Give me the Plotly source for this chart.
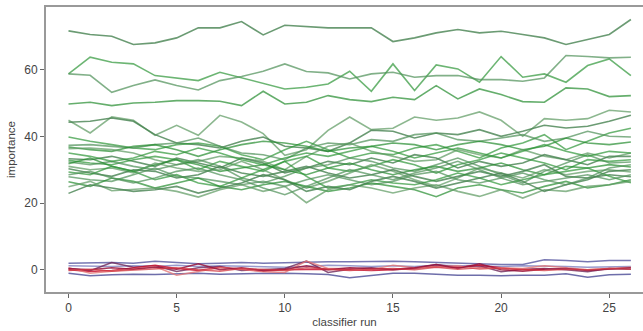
import plotly.graph_objects as go

runs = list(range(27))

# upper green series
g_top = [71.6, 70.5, 70.0, 67.5, 68.0, 69.5, 72.5, 72.5, 74.4, 70.4, 73.3, 72.8, 72.5, 72.5, 72.5, 68.4,
         69.5, 71.0, 72.0, 71.0, 71.5, 70.5, 69.5, 67.5, 69.0, 70.5, 75.0]
g_a = [58.7, 63.7, 62.2, 61.7, 58.2, 57.5, 56.7, 59.2, 57.5, 55.7, 54.2, 54.7, 55.7, 59.5, 53.5, 61.7,
       53.7, 61.4, 60.2, 56.2, 63.9, 57.7, 58.7, 56.2, 61.2, 63.2, 58.2]
g_b = [58.7, 58.3, 53.2, 55.2, 56.9, 55.2, 53.9, 56.7, 57.9, 59.5, 61.7, 59.4, 59.0, 57.2, 58.7, 59.2,
       57.7, 58.2, 58.2, 57.0, 57.0, 56.5, 57.5, 64.2, 63.9, 63.5, 63.7]
g_c = [49.7, 50.2, 49.2, 50.0, 50.2, 50.7, 50.7, 50.5, 49.2, 53.5, 49.7, 50.2, 52.2, 51.0, 50.4, 51.7,
       51.0, 55.2, 51.2, 54.2, 52.5, 50.4, 50.2, 54.5, 54.2, 51.9, 52.2]

# middle green band
m1 = [44.8, 41.0, 45.8, 44.8, 40.3, 43.3, 40.3, 46.3, 44.3, 40.8, 34.3, 36.0, 41.8, 45.8, 42.0, 42.4,
      45.8, 44.8, 45.5, 47.3, 44.8, 40.0, 45.3, 44.8, 45.3, 47.8, 47.3]
m2 = [44.2, 44.5, 45.5, 44.5, 40.5, 38.0, 37.5, 36.5, 38.5, 39.8, 37.0, 36.5, 35.5, 38.0, 41.8, 41.5,
      39.5, 41.0, 40.5, 42.0, 40.0, 41.5, 43.3, 42.5, 43.0, 44.5, 46.3]
m3 = [39.8, 38.5, 37.5, 36.5, 36.0, 37.5, 38.0, 37.0, 34.5, 33.0, 36.0, 38.5, 36.0, 33.5, 35.0, 34.5,
      36.5, 37.5, 35.5, 33.5, 36.5, 38.0, 40.5, 36.0, 38.5, 41.0, 42.4]
m4 = [37.3, 37.5, 37.0, 36.5, 37.5, 38.0, 39.5, 37.0, 35.0, 34.5, 33.0, 36.5, 38.0, 37.5, 39.0, 38.5,
      40.5, 41.0, 39.0, 38.5, 39.5, 40.5, 38.5, 39.5, 41.5, 40.0, 39.8]
m5 = [36.8, 36.0, 35.5, 37.0, 37.5, 36.0, 34.0, 36.0, 37.5, 38.5, 38.0, 37.0, 35.5, 36.5, 37.0, 38.0,
      37.5, 36.0, 37.5, 38.5, 37.5, 36.0, 37.0, 39.5, 38.0, 37.5, 38.3]
m6 = [36.3, 36.5, 36.0, 35.0, 33.0, 31.5, 32.5, 34.0, 33.5, 32.5, 30.0, 34.0, 37.0, 38.0, 35.5, 34.0,
      32.5, 33.0, 36.0, 34.5, 33.5, 36.0, 34.0, 33.0, 35.0, 33.5, 35.0]
m7 = [33.3, 33.0, 34.0, 32.5, 31.0, 33.5, 32.0, 30.5, 33.5, 32.0, 29.0, 30.5, 32.5, 31.5, 33.5, 32.0,
      34.5, 33.5, 30.5, 32.5, 31.0, 32.0, 34.5, 33.0, 31.5, 34.0, 34.0]
m8 = [32.8, 32.0, 31.5, 33.0, 34.0, 33.0, 30.0, 32.5, 31.0, 29.5, 32.5, 34.0, 30.5, 29.5, 31.0, 33.0,
      31.5, 29.0, 31.5, 33.0, 35.0, 33.5, 32.0, 30.0, 33.0, 32.5, 33.0]
m9 = [32.3, 31.5, 32.5, 31.0, 30.0, 31.5, 33.0, 31.0, 27.5, 26.0, 28.0, 30.5, 31.5, 33.5, 32.5, 30.5,
      29.5, 31.5, 33.5, 31.0, 28.5, 26.0, 29.5, 32.0, 34.5, 32.0, 32.3]
m10 = [31.8, 33.5, 31.0, 29.5, 31.5, 33.0, 31.5, 29.5, 30.5, 31.5, 30.0, 28.5, 30.5, 32.0, 30.0, 28.5,
       30.0, 31.0, 29.5, 30.5, 32.0, 30.0, 28.5, 31.0, 30.5, 31.5, 30.8]
m11 = [31.0, 30.0, 30.5, 29.0, 32.0, 30.5, 29.5, 30.0, 32.5, 30.0, 27.0, 24.5, 26.5, 29.0, 31.5, 29.5,
       27.0, 25.0, 27.5, 30.5, 29.0, 27.5, 30.0, 28.5, 29.5, 30.0, 29.3]
m12 = [30.3, 29.0, 28.0, 30.0, 29.5, 27.5, 28.5, 31.0, 29.0, 28.0, 29.5, 31.0, 29.0, 27.5, 28.5, 30.0,
       28.0, 26.5, 28.0, 29.5, 28.0, 29.5, 31.5, 28.0, 27.5, 28.5, 27.9]
m13 = [29.3, 28.5, 31.0, 29.5, 27.0, 28.5, 26.0, 25.0, 27.5, 30.0, 32.5, 28.0, 24.5, 25.5, 27.0, 26.0,
       25.5, 27.0, 29.0, 27.5, 25.5, 27.0, 28.5, 29.5, 30.5, 28.0, 26.1]
m14 = [27.9, 27.0, 26.5, 28.5, 30.5, 28.0, 27.5, 26.5, 25.5, 26.5, 25.0, 27.0, 28.5, 27.0, 25.5, 26.5,
       28.5, 29.5, 27.0, 26.0, 27.5, 25.5, 26.5, 27.5, 28.5, 27.0, 28.5]
m15 = [26.4, 25.0, 27.5, 26.5, 24.5, 26.0, 27.5, 25.0, 24.0, 25.5, 26.5, 25.0, 23.5, 24.5, 26.0, 25.0,
       24.0, 21.9, 24.5, 25.5, 24.0, 23.0, 25.0, 26.5, 24.5, 25.5, 27.0]
m16 = [24.9, 26.5, 23.7, 24.0, 24.5, 23.5, 21.8, 24.0, 25.5, 23.5, 25.0, 20.1, 24.0, 25.5, 24.5, 23.0,
       24.5, 25.5, 23.5, 22.0, 24.0, 21.5, 24.0, 23.5, 25.0, 25.5, 26.5]
m17 = [22.9, 25.5, 24.5, 23.5, 24.0, 25.0, 23.0, 24.5, 26.0, 28.5, 27.0, 23.5, 25.0, 24.0, 26.5, 28.0,
       26.5, 24.5, 26.0, 27.5, 29.0, 26.5, 23.5, 25.5, 27.0, 29.5, 30.0]
m18 = [35.0, 34.0, 32.5, 33.5, 35.5, 34.5, 36.5, 35.0, 33.0, 31.5, 33.5, 35.0, 34.0, 35.5, 37.0, 35.5,
       33.5, 35.0, 36.5, 35.0, 33.5, 35.5, 37.5, 35.5, 34.0, 35.5, 35.0]
m19 = [28.5, 29.5, 27.5, 26.0, 27.5, 29.5, 30.5, 28.5, 27.0, 24.5, 22.5, 25.0, 27.5, 30.0, 28.5, 27.0,
       29.0, 30.5, 32.5, 30.0, 27.5, 29.0, 27.0, 25.5, 27.5, 30.5, 31.5]

# near-zero series (blue / purple)
b1 = [2.0, 2.2, 2.2, 2.0, 2.6, 2.2, 1.8, 2.0, 2.2, 2.0, 2.2, 2.4, 2.4, 2.4, 2.6, 2.6, 2.4, 2.2, 1.8,
      1.8, 1.6, 1.6, 3.0, 2.8, 2.4, 2.8, 2.8]
b2 = [-1.0, -1.8, -1.5, -1.3, -1.4, -1.2, -1.0, -1.3, -1.2, -1.1, -1.0, -1.2, -1.4, -2.4, -1.8, -1.0,
      -1.0, -1.4, -1.6, -1.6, -1.8, -1.6, -1.6, -1.2, -2.2, -1.5, -1.3]
b3 = [1.2, 1.0, 1.0, 1.2, 1.0, 1.4, 1.0, 1.2, 1.0, 0.8, 0.8, 1.0, 1.4, 1.2, 1.0, 1.2, 1.0, 1.4, 1.2,
      1.0, 1.0, 1.2, 1.2, 1.0, 0.8, 1.0, 1.0]
b4 = [0.4, -0.3, 2.2, 0.8, 1.2, -0.5, 0.6, 1.0, -0.2, 0.2, 0.4, 2.6, -0.8, 0.2, 0.6, 0.0, 0.4, 1.6,
      0.8, 1.2, -0.6, 0.2, 0.4, 0.0, -0.6, 0.4, 0.2]

# near-zero series (red)
r1 = [0.0, -0.5, -0.2, 0.6, 1.4, 0.4, -0.2, 0.8, 0.2, -0.4, 0.0, 0.2, 0.2, 0.0, -0.2, 0.0, 0.4, 1.0,
      0.8, 1.4, 0.6, 0.0, 0.2]
r2 = [0.6, -1.0, -0.4, 0.4, 1.0, -1.6, -0.4, 0.6, 0.2, -0.6, -0.8, 2.6, 0.4, 0.4, 0.0, 1.4, 0.6, 0.8,
      1.2, 0.2, 0.6, 0.4, 1.2, 0.6, 0.0, 0.4, 0.8]
r3 = [0.4, 0.0, 0.6, 0.2, 0.8, 0.2, 1.8, 0.0, 0.6, -0.2, 0.2, 1.2, 0.0, 0.6, 0.4, 0.2, 0.6, 1.6, 0.4,
      1.8, 0.0, -0.4, 0.2, 0.4, -0.2, 0.2, 0.6]
r4 = [-0.2, 0.2, -0.4, 0.0, 0.4, 0.6, 0.0, -0.4, 0.4, 0.0, -0.2, 0.6, 0.2, -0.2, 0.2, 0.4, 0.0, 0.8,
      0.2, 0.6, 0.4, 0.0, -0.2, 0.2, 0.0, 0.4, 0.2]

green_series = [g_top, g_a, g_b, g_c, m1, m2, m3, m4, m5, m6, m7, m8, m9, m10, m11, m12, m13, m14,
                m15, m16, m17, m18, m19]
blue_series = [b1, b2, b3, b4]
red_series = [r1, r2, r3, r4]

green_cols = ["rgba(70,130,80,0.8)", "rgba(45,150,55,0.7)", "rgba(80,145,90,0.72)",
              "rgba(35,140,45,0.7)", "rgba(95,155,100,0.72)"]
blue_cols = ["rgba(95,95,165,0.85)", "rgba(85,85,155,0.85)", "rgba(120,120,185,0.75)",
             "rgba(110,40,90,0.8)"]
red_cols = ["rgba(200,20,50,0.85)", "rgba(228,120,120,0.8)", "rgba(150,20,60,0.85)",
            "rgba(210,60,70,0.75)"]

fig = go.Figure()
for i, s in enumerate(green_series):
    fig.add_trace(go.Scatter(x=runs[:len(s)], y=s, mode="lines",
                             line=dict(color=green_cols[i % len(green_cols)], width=1.6),
                             showlegend=False, hoverinfo="skip"))
for i, s in enumerate(blue_series):
    fig.add_trace(go.Scatter(x=runs[:len(s)], y=s, mode="lines",
                             line=dict(color=blue_cols[i], width=1.5),
                             showlegend=False, hoverinfo="skip"))
for i, s in enumerate(red_series):
    fig.add_trace(go.Scatter(x=runs[:len(s)], y=s, mode="lines",
                             line=dict(color=red_cols[i], width=1.5),
                             showlegend=False, hoverinfo="skip"))

axis_font = dict(family="Liberation Sans, Arial, sans-serif", size=12, color="#444")
fig.update_layout(
    width=643, height=331,
    margin=dict(l=46, r=0, t=7, b=39),
    paper_bgcolor="white", plot_bgcolor="white",
    font=axis_font,
    xaxis=dict(range=[-1.04, 26.56], tickvals=[0, 5, 10, 15, 20, 25], showgrid=False,
               zeroline=False, showline=True, linecolor="#999", linewidth=2, mirror=True,
               ticks="outside", ticklen=4, tickcolor="#666",
               title=dict(text="classifier run", font=dict(size=11.5, color="#444"), standoff=4)),
    yaxis=dict(range=[-6.65, 78.75], tickvals=[0, 20, 40, 60], showgrid=False,
               zeroline=False, showline=True, linecolor="#999", linewidth=2,
               ticks="outside", ticklen=4, tickcolor="#666",
               title=dict(text="importance", font=dict(size=11.5, color="#444"), standoff=6)),
)

fig.write_html("out.html", config={"displayModeBar": False},
               post_script="document.body.style.margin='0';")
